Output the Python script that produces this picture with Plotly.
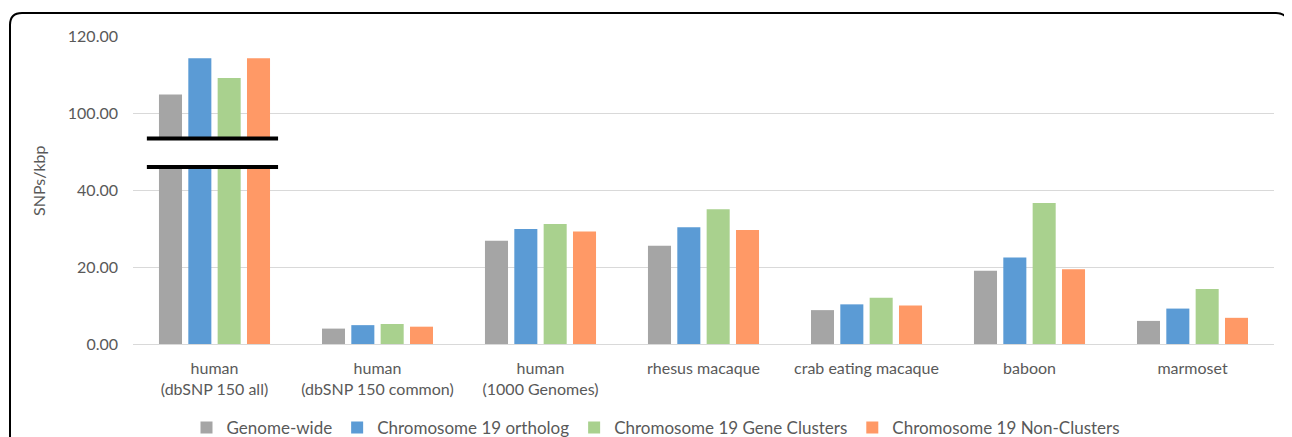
import plotly.graph_objects as go

categories = ["human<br>(dbSNP 150 all)", "human<br>(dbSNP 150 common)", "human<br>(1000 Genomes)",
              "rhesus macaque", "crab eating macaque", "baboon", "marmoset"]
series_names = ["Genome-wide", "Chromosome 19 ortholog", "Chromosome 19 Gene Clusters", "Chromosome 19 Non-Clusters"]
genome_wide = [104.8, 4.0, 26.8, 25.5, 8.8, 19.0, 6.0]
chr19_ortholog = [114.2, 4.9, 29.9, 30.3, 10.3, 22.5, 9.2]
chr19_gene_clusters = [109.1, 5.2, 31.2, 35.0, 12.0, 36.6, 14.3]
chr19_non_clusters = [114.2, 4.5, 29.2, 29.6, 10.0, 19.4, 6.8]
colors = ["#A5A5A5", "#5B9BD5", "#A9D18E", "#FF9966"]
tick_values = [0, 20, 40, 100, 120]
tick_labels = ["0.00", "20.00", "40.00", "100.00", "120.00"]

# broken axis: values above the break are shifted down by 40
BREAK_SHIFT = 40
def disp(v):
    return v - BREAK_SHIFT if v > 60 else v

OFF = 8  # default page body margin
W, H = 1292 - OFF, 437 - OFF
# target plot area in page pixels: x 133..1274, y 36..344
L, T = 133 - OFF, 36 - OFF
R = W - (1274 - OFF)
B = H - (344 - OFF)
pw, ph = W - L - R, H - T - B

def px_x(x):  # page px -> paper
    return (x - OFF - L) / pw
def px_y(y):
    return (H - B - (y - OFF)) / ph

fig = go.Figure()
for name, vals, c in zip(series_names, [genome_wide, chr19_ortholog, chr19_gene_clusters, chr19_non_clusters], colors):
    fig.add_trace(go.Bar(x=categories, y=[disp(v) for v in vals], name=name,
                         marker=dict(color=c, line=dict(width=0))))

font_color = "#595959"
fnt = "Lato, 'Open Sans', sans-serif"

shapes = []
# white gap in the first group
shapes.append(dict(type="rect", xref="x", yref="y", x0=-0.40, x1=0.38, y0=46.0, y1=53.4,
                   fillcolor="white", line=dict(width=0), layer="above"))
for yv in (46.0, 53.4):
    shapes.append(dict(type="line", xref="x", yref="y", x0=-0.415, x1=0.39, y0=yv, y1=yv,
                       line=dict(color="black", width=4), layer="above"))

# rounded outer frame
x0, x1 = px_x(10), px_x(1288)
y0, y1 = px_y(13), px_y(470)
rx = 12 / pw
ry = 12 / ph
path = (f"M {x0} {y1} L {x0} {y0 - ry} Q {x0} {y0} {x0 + rx} {y0} "
        f"L {x1 - rx} {y0} Q {x1} {y0} {x1} {y0 - ry} L {x1} {y1}")
shapes.append(dict(type="path", xref="paper", yref="paper", path=path,
                   line=dict(color="black", width=2)))

fig.update_layout(
    width=W, height=H,
    margin=dict(l=L, r=R, t=T, b=B, autoexpand=False),
    paper_bgcolor="white", plot_bgcolor="white",
    barmode="group", bargap=0.28, bargroupgap=0.215,
    font=dict(family=fnt, color=font_color, size=16),
    showlegend=True,
    legend=dict(orientation="h", x=px_x(656), xanchor="center", y=px_y(428), yanchor="middle",
                font=dict(size=17, color=font_color), itemwidth=30, traceorder="normal"),
    shapes=shapes,
    annotations=[dict(text="SNPs/kbp", xref="paper", yref="paper", x=px_x(38), y=px_y(181),
                      textangle=-90, showarrow=False, font=dict(size=16, color=font_color),
                      xanchor="center", yanchor="middle")],
)
fig.update_yaxes(range=[0, 80], tickvals=[disp(v) if v > 60 else v for v in tick_values],
                 ticktext=tick_labels, showgrid=True, gridcolor="#D9D9D9", gridwidth=1,
                 zeroline=False, showline=False, ticks="", ticklabelstandoff=14,
                 tickfont=dict(size=16, color=font_color))
fig.update_xaxes(showgrid=False, showline=True, linecolor="#D9D9D9", linewidth=1, ticks="",
                 ticklabelstandoff=10, tickfont=dict(size=16, color=font_color))

fig.write_html("out.html")
